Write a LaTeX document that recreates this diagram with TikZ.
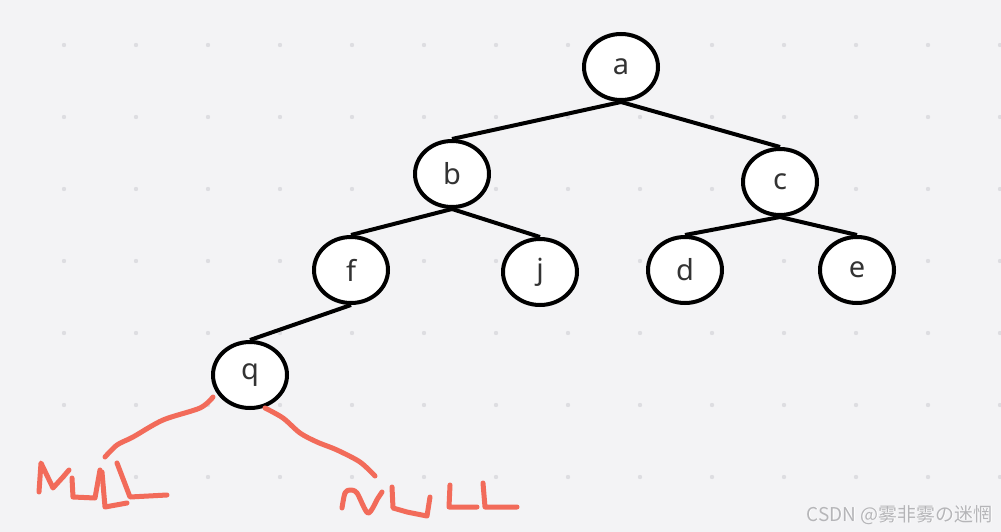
\documentclass[tikz,border=0pt]{standalone}
\usepackage{fontspec}
\setmainfont{Noto Sans}
\newfontfamily\cjkfont{Noto Sans CJK SC}
\usetikzlibrary{shapes.geometric}
\definecolor{bgc}{HTML}{F3F3F5}
\definecolor{dotc}{HTML}{DDDDE1}
\definecolor{txtc}{HTML}{333333}
\definecolor{redc}{HTML}{F26B5A}
\definecolor{wmc}{HTML}{B5B5B8}
\tikzset{
  tnode/.style={ellipse, draw=black, fill=white, line width=4pt,
    minimum width=74pt, minimum height=66pt, inner sep=0pt,
    text=txtc, font=\fontsize{29}{29}\selectfont},
  tedge/.style={line width=4pt, black},
  redline/.style={redc, line width=5pt, line cap=round, line join=round}
}
\begin{document}
\begin{tikzpicture}[x=1pt,y=-1pt]
\fill[bgc] (0,0) rectangle (1001,532);
\useasboundingbox (0,0) rectangle (1001,532);
\foreach \i in {0,...,13}{
  \foreach \j in {0,...,6}{
    \fill[dotc] (64+72*\i,45+72*\j) circle (2.2pt);
  }
}
\node[tnode] (a) at (621,67) {a};
\node[tnode] (b) at (452,174) {b};
\node[tnode] (c) at (780,182) {c};
\node[tnode] (f) at (351,270) {f};
\node[tnode] (j) at (540,272) {j};
\node[tnode] (d) at (685,270) {d};
\node[tnode] (e) at (857,270) {e};
\node[tnode] (q) at (250,375) {q};
\draw[tedge] (a.south) -- (b.north);
\draw[tedge] (a.south) -- (c.north);
\draw[tedge] (b.south) -- (f.north);
\draw[tedge] (b.south) -- (j.north);
\draw[tedge] (c.south) -- (d.north);
\draw[tedge] (c.south) -- (e.north);
\draw[tedge] (f.south) -- (q.north);
% red hand-drawn strokes
\draw[redline] plot[smooth] coordinates {(213,397) (200,408) (163,420) (133,437) (117,445) (105,457)};
\draw[redline] plot[smooth] coordinates {(265,408) (283,418) (300,433) (317,442) (337,450) (360,462) (375,476)};
% MULL
\draw[redline] (39,492) -- (41,463) -- (53,488) -- (63,477) -- (69,470);
\draw[redline] (72,478) -- (73,497) -- (95,498) -- (100,470);
\draw[redline] (102,472) -- (105,507) -- (127,503);
\draw[redline] (117,463) -- (130,497) -- (167,495);
% NULL
\draw[redline] plot[smooth] coordinates {(342,508) (345,493) (350,490) (357,493) (368,513) (378,498) (382,492)};
\draw[redline] (392,487) -- (393,508) -- (407,512) -- (427,516) -- (430,497);
\draw[redline] (450,485) -- (449,507) -- (477,507);
\draw[redline] (483,483) -- (485,507) -- (517,507);
% watermark
\node[text=white, font=\cjkfont\fontsize{19}{19}\selectfont, anchor=east] (wms) at (996.6,515.6) {CSDN @雾非雾の迷惘};
\node[text=wmc, font=\cjkfont\fontsize{19}{19}\selectfont, anchor=east] (wm) at (996,515) {CSDN @雾非雾の迷惘};
\end{tikzpicture}
\end{document}
